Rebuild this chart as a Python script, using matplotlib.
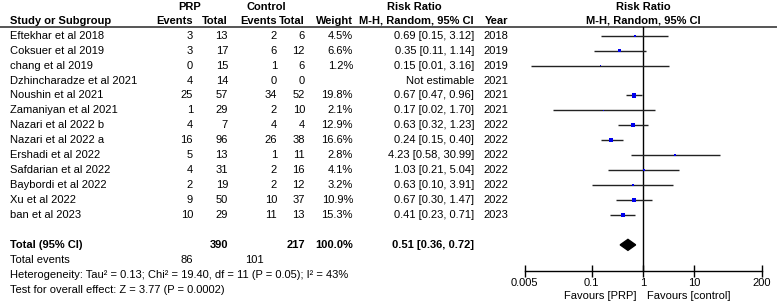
import numpy as np
import matplotlib.pyplot as plt

plt.rcParams['font.family'] = ['Liberation Sans', 'DejaVu Sans']

studies = ['Eftekhar et al 2018', 'Coksuer et al 2019', 'chang et al 2019',
           'Dzhincharadze et al 2021', 'Noushin et al 2021', 'Zamaniyan et al 2021',
           'Nazari et al 2022 b', 'Nazari et al 2022 a', 'Ershadi et al 2022',
           'Safdarian et al 2022', 'Baybordi et al 2022', 'Xu et al 2022', 'ban et al 2023']
prp_events = [3, 3, 0, 4, 25, 1, 4, 16, 5, 4, 2, 9, 10]
prp_total = [13, 17, 15, 14, 57, 29, 7, 96, 13, 31, 19, 50, 29]
ctl_events = [2, 6, 1, 0, 34, 2, 4, 26, 1, 2, 2, 10, 11]
ctl_total = [6, 12, 6, 0, 52, 10, 4, 38, 11, 16, 12, 37, 13]
weight = [4.5, 6.6, 1.2, np.nan, 19.8, 2.1, 12.9, 16.6, 2.8, 4.1, 3.2, 10.9, 15.3]
rr = [0.69, 0.35, 0.15, np.nan, 0.67, 0.17, 0.63, 0.24, 4.23, 1.03, 0.63, 0.67, 0.41]
lo = [0.15, 0.11, 0.0067, np.nan, 0.47, 0.0175, 0.32, 0.15, 0.58, 0.21, 0.10, 0.30, 0.23]
hi = [3.12, 1.14, 3.16, np.nan, 0.96, 1.70, 1.23, 0.40, 30.99, 5.04, 3.91, 1.47, 0.71]
years = [2018, 2019, 2019, 2021, 2021, 2021, 2022, 2022, 2022, 2022, 2022, 2022, 2023]

total_prp, total_ctl = 390, 217
events_prp, events_ctl = 86, 101
pooled = (0.51, 0.36, 0.72)
het_text = 'Heterogeneity: Tau\u00b2 = 0.13; Chi\u00b2 = 19.40, df = 11 (P = 0.05); I\u00b2 = 43%'
test_text = 'Test for overall effect: Z = 3.77 (P = 0.0002)'
ticks = [0.005, 0.1, 1, 10, 200]
tick_labels = ['0.005', '0.1', '1', '10', '200']

fs = 8
W, H = 777, 302
fig = plt.figure(figsize=(W / 100, H / 100), dpi=100)

# table axes in pixel coords
tab = fig.add_axes([0, 0, 1, 1])
tab.set_xlim(0, W)
tab.set_ylim(H, 0)
tab.axis('off')

row0, dy = 35.7, 14.94


def row_y(i):
    return row0 + dy * i


def txt(x, y, s, ha='left', bold=False):
    tab.text(x, y, s, ha=ha, va='center', fontsize=fs,
             fontweight='bold' if bold else 'normal')


# header
txt(190, 6.5, 'PRP', 'center', True)
txt(266, 6.5, 'Control', 'center', True)
txt(414, 6.5, 'Risk Ratio', 'center', True)
txt(643, 6.5, 'Risk Ratio', 'center', True)
txt(10, 20.5, 'Study or Subgroup', 'left', True)
txt(193, 20.5, 'Events', 'right', True)
txt(228, 20.5, 'Total', 'right', True)
txt(277, 20.5, 'Events', 'right', True)
txt(305, 20.5, 'Total', 'right', True)
txt(353, 20.5, 'Weight', 'right', True)
txt(474, 20.5, 'M-H, Random, 95% CI', 'right', True)
txt(508, 20.5, 'Year', 'right', True)
txt(643, 20.5, 'M-H, Random, 95% CI', 'center', True)
tab.plot([0, 776], [27, 27], color='#555555', lw=1.4)

for i, name in enumerate(studies):
    y = row_y(i)
    txt(10, y, name)
    txt(193, y, str(prp_events[i]), 'right')
    txt(228, y, str(prp_total[i]), 'right')
    txt(277, y, str(ctl_events[i]), 'right')
    txt(305, y, str(ctl_total[i]), 'right')
    if np.isnan(rr[i]):
        txt(474, y, 'Not estimable', 'right')
    else:
        txt(353, y, f'{weight[i]:.1f}%', 'right')
        txt(474, y, f'{rr[i]:.2f} [{lo[i]:.2f}, {hi[i]:.2f}]', 'right')
    txt(508, y, str(years[i]), 'right')

y = row_y(14)
txt(10, y, 'Total (95% CI)', 'left', True)
txt(228, y, str(total_prp), 'right', True)
txt(305, y, str(total_ctl), 'right', True)
txt(353, y, '100.0%', 'right', True)
txt(474, y, f'{pooled[0]:.2f} [{pooled[1]:.2f}, {pooled[2]:.2f}]', 'right', True)
y = row_y(15)
txt(10, y, 'Total events')
txt(193, y, str(events_prp), 'right')
txt(264, y, str(events_ctl), 'right')
txt(10, row_y(16), het_text)
txt(10, row_y(17), test_text)
txt(637, 296, 'Favours [PRP]', 'right')
txt(647, 296, 'Favours [control]', 'left')

# forest axes
top_px, bot_px = 27, 271
left_px, right_px = 524.5, 761.5
ax = fig.add_axes([left_px / W, 1 - bot_px / H, (right_px - left_px) / W,
                   (bot_px - top_px) / H])
ax.set_xscale('log')
ax.set_xlim(0.005, 200)
ax.set_ylim((bot_px - row0) / dy, -(row0 - top_px) / dy)
ax.patch.set_alpha(0)
for s in ['top', 'left', 'right']:
    ax.spines[s].set_visible(False)
ax.spines['bottom'].set_linewidth(1)
ax.set_yticks([])
ax.set_xticks(ticks)
ax.set_xticklabels(tick_labels, fontsize=fs)
ax.minorticks_off()
ax.tick_params(axis='x', direction='inout', length=8, width=1, pad=1)
ax.axvline(1, color='black', lw=1)

idx = np.arange(len(studies))
rr_a, lo_a, hi_a, w_a = map(np.array, (rr, lo, hi, weight))
ax.hlines(idx, lo_a, hi_a, color='#222222', lw=1)
side_px = 4.7 * np.sqrt(w_a / 19.8)
side_px = np.maximum(side_px, 1.6)
ax.scatter(rr_a, idx, marker='s', s=(side_px * 0.72) ** 2, color='#0000ee',
           linewidths=0, zorder=3)

h = 5.5 / dy
ax.fill([pooled[1], pooled[0], pooled[2], pooled[0]],
        [14, 14 - h, 14, 14 + h], color='black', zorder=3)

fig.savefig('out.png', dpi=100)
